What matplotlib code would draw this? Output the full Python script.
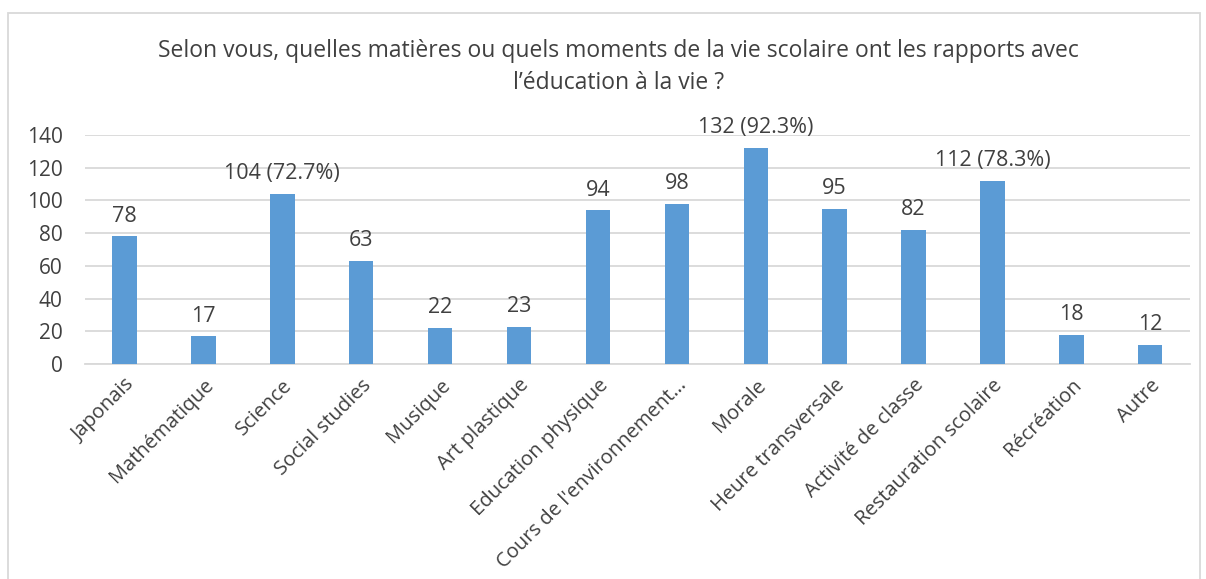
import matplotlib.pyplot as plt
from matplotlib.patches import Rectangle
import numpy as np

categories = ["Japonais", "Mathématique", "Science", "Social studies", "Musique",
              "Art plastique", "Education physique", "Cours de l'environnement…",
              "Morale", "Heure transversale", "Activité de classe",
              "Restauration scolaire", "Récréation", "Autre"]
values = [78, 17, 104, 63, 22, 23, 94, 98, 132, 95, 82, 112, 18, 12]
value_labels = ["78", "17", "104 (72.7%)", "63", "22", "23", "94", "98",
                "132 (92.3%)", "95", "82", "112 (78.3%)", "18", "12"]
yticks = [0, 20, 40, 60, 80, 100, 120, 140]

plt.rcParams['font.family'] = ['Open Sans', 'DejaVu Sans']
text_color = '#404040'
bar_color = '#5B9BD5'

fig = plt.figure(figsize=(12.06, 5.79), dpi=100)
ax = fig.add_axes([0.0705, 0.371, 0.916, 0.396])

x = np.arange(len(categories))
ax.bar(x, values, width=0.31, color=bar_color, zorder=3)
for xi, v, lab in zip(x, values, value_labels):
    ax.annotate(lab, (xi, v), xytext=(0, 7), textcoords='offset points',
                ha='center', va='bottom', fontsize=15.5, color=text_color)

ax.set_xlim(-0.5, len(categories) - 0.5)
ax.set_ylim(0, 140)
ax.set_yticks(yticks)
ax.yaxis.grid(True, color='#D9D9D9', linewidth=1.3, zorder=0)
ax.set_xticks(x)
ax.set_xticklabels(categories, rotation=45, ha='right', rotation_mode='anchor',
                   fontsize=14.5, color=text_color)
ax.tick_params(axis='y', labelsize=15, labelcolor=text_color, length=0, pad=16)
ax.tick_params(axis='x', length=0, pad=8)
for s in ['top', 'right', 'left']:
    ax.spines[s].set_visible(False)
ax.spines['bottom'].set_color('#D9D9D9')
ax.spines['bottom'].set_linewidth(1.3)

fig.text(0.513, 0.884, "Selon vous, quelles matières ou quels moments de la vie scolaire ont les rapports avec\nl’éducation à la vie ?",
         ha='center', va='center', fontsize=16.5, color=text_color, linespacing=1.45)

fig.patches.append(Rectangle((8 / 1206, -0.05), 1192 / 1206, 1.05 - 13 / 579,
                             transform=fig.transFigure, fill=False,
                             edgecolor='#D9D9D9', linewidth=1.3))

fig.savefig('out.png', dpi=100)
